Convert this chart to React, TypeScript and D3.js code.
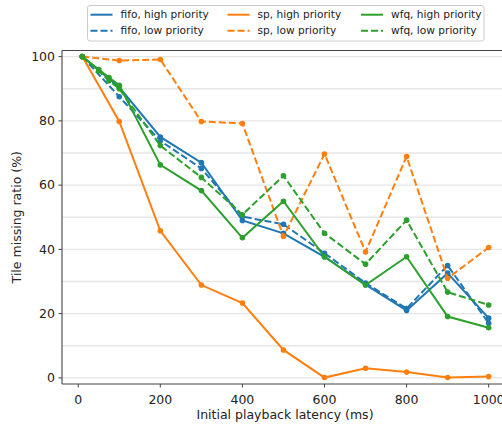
import * as d3 from 'd3';

const W = 502;
const H = 426;

// x positions (ms) for each series
const xsBase = [10, 100, 200, 300, 400, 500, 600, 700, 800, 900, 1000];
const xsWfq = [10, 50, 75, 100, 200, 300, 400, 500, 600, 700, 800, 900, 1000];

const fifoHigh = [100, 90.5, 75, 67, 49, 45, 37.7, 29, 21, 32.6, 18.6];
const fifoLow = [100, 87.5, 73.8, 65.2, 50.2, 47.8, 38.8, 29.5, 21.6, 35, 17];
const spHigh = [100, 79.8, 45.8, 28.9, 23.3, 8.7, 0.1, 3, 1.8, 0.1, 0.4];
const spLow = [100, 98.8, 99.1, 79.8, 79.2, 44, 69.7, 39.2, 68.9, 31, 40.6];
const wfqHigh = [100, 96, 93.5, 91.1, 66.3, 58.3, 43.6, 55, 37.7, 28.9, 37.7, 19.1, 15.6];
const wfqLow = [100, 95.5, 92.5, 90, 72.3, 62.4, 50.8, 62.9, 45, 35.4, 49.1, 26.7, 22.7];

const yTicks = [0, 20, 40, 60, 80, 100];
const xTicks = [0, 200, 400, 600, 800, 1000];
const gridVals = [0, 10, 20, 30, 40, 50, 60, 70, 80, 90, 100];

const BLUE = '#1f77b4';
const ORANGE = '#ff7f0e';
const GREEN = '#2ca02c';

const series = [
  { name: 'fifo, high priority', xs: xsBase, ys: fifoHigh, color: BLUE, dashed: false },
  { name: 'fifo, low priority', xs: xsBase, ys: fifoLow, color: BLUE, dashed: true },
  { name: 'sp, high priority', xs: xsBase, ys: spHigh, color: ORANGE, dashed: false },
  { name: 'sp, low priority', xs: xsBase, ys: spLow, color: ORANGE, dashed: true },
  { name: 'wfq, high priority', xs: xsWfq, ys: wfqHigh, color: GREEN, dashed: false },
  { name: 'wfq, low priority', xs: xsWfq, ys: wfqLow, color: GREEN, dashed: true },
];

const FONT = '"DejaVu Sans", sans-serif';
const DASH = '7,3';

export default function App() {
  const left = 62;
  const right = 509;
  const top = 50.5;
  const bottom = 384;

  const x = d3.scaleLinear().domain([-39.5, 1049.5]).range([left, right]);
  const y = d3.scaleLinear().domain([-1.9, 101.9]).range([bottom, top]);

  const line = d3
    .line<[number, number]>()
    .x((d) => x(d[0]))
    .y((d) => y(d[1]));

  const legendCols = [90.5, 227.5, 361];
  const legendRows = [14.7, 30.7];

  return (
    <svg
      width={W}
      height={H}
      style={{ position: 'absolute', left: 0, top: 0, background: '#fff' }}
      fontFamily={FONT}
    >
      <defs>
        <clipPath id="plot">
          <rect x={left} y={top} width={right - left} height={bottom - top} />
        </clipPath>
      </defs>

      {/* grid */}
      {gridVals.map((v) => (
        <line
          key={'g' + v}
          x1={left}
          x2={W}
          y1={y(v)}
          y2={y(v)}
          stroke="#e6e6e6"
          strokeWidth={1.3}
        />
      ))}

      {/* series */}
      <g clipPath="url(#plot)">
        {series.map((s) => {
          const pts = s.xs.map((xv, j) => [xv, s.ys[j]] as [number, number]);
          return (
            <g key={s.name}>
              <path
                d={line(pts) || ''}
                fill="none"
                stroke={s.color}
                strokeWidth={2}
                strokeDasharray={s.dashed ? DASH : undefined}
              />
              {pts.map((p, j) => (
                <circle key={j} cx={x(p[0])} cy={y(p[1])} r={2.8} fill={s.color} />
              ))}
            </g>
          );
        })}
      </g>

      {/* spines */}
      <line x1={left} x2={left} y1={top} y2={bottom} stroke="#444" strokeWidth={1.1} />
      <line x1={left} x2={W} y1={top} y2={top} stroke="#444" strokeWidth={1.1} />
      <line x1={left} x2={W} y1={bottom} y2={bottom} stroke="#444" strokeWidth={1.1} />

      {/* y ticks */}
      {yTicks.map((t) => (
        <g key={'y' + t}>
          <line x1={left - 3.5} x2={left} y1={y(t)} y2={y(t)} stroke="#444" strokeWidth={1} />
          <text x={left - 7} y={y(t)} dy="0.35em" textAnchor="end" fontSize={12.5} fill="#222">
            {t}
          </text>
        </g>
      ))}

      {/* x ticks */}
      {xTicks.map((t) => (
        <g key={'x' + t}>
          <line x1={x(t)} x2={x(t)} y1={bottom} y2={bottom + 3.5} stroke="#444" strokeWidth={1} />
          <text x={x(t)} y={bottom + 19.5} textAnchor="middle" fontSize={12.5} fill="#222">
            {t}
          </text>
        </g>
      ))}

      <text x={285} y={419} textAnchor="middle" fontSize={12.5} fill="#222">
        Initial playback latency (ms)
      </text>
      <text
        transform={`translate(21,${(top + bottom) / 2}) rotate(-90)`}
        textAnchor="middle"
        fontSize={12.5}
        fill="#222"
      >
        Tile missing ratio (%)
      </text>

      {/* legend */}
      <rect x={87.5} y={5.5} width={396.5} height={35.5} rx={2.5} fill="#fff" stroke="#ccc" strokeWidth={1} />
      {series.map((s, i) => {
        const col = Math.floor(i / 2);
        const row = i % 2;
        const lx = legendCols[col];
        const ly = legendRows[row];
        return (
          <g key={'l' + i}>
            <line
              x1={lx}
              x2={lx + 22}
              y1={ly}
              y2={ly}
              stroke={s.color}
              strokeWidth={2}
              strokeDasharray={s.dashed ? DASH : undefined}
            />
            <text x={lx + 30} y={ly} dy="0.35em" fontSize={10.6} fill="#222">
              {s.name}
            </text>
          </g>
        );
      })}
    </svg>
  );
}
